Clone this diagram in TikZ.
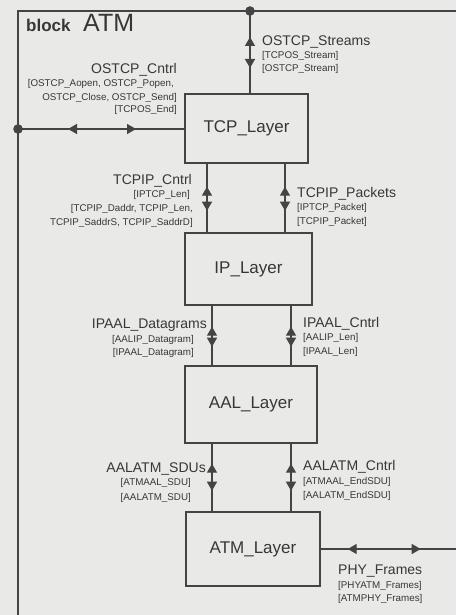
\documentclass[tikz,border=0pt]{standalone}
\usepackage{fontspec}
\setmainfont{Liberation Sans}
\usetikzlibrary{arrows.meta,decorations.markings}
\definecolor{paper}{RGB}{233,233,231}
\definecolor{ink}{RGB}{68,68,68}
\definecolor{txt}{RGB}{55,55,55}
\begin{document}
\begin{tikzpicture}[x=1pt,y=-1pt,
  layer/.style={draw=ink, line width=1.4pt, inner sep=0pt, text=txt,
    font=\fontsize{17}{19}\selectfont},
  conn/.style={color=ink, line width=1.4pt},
  frameline/.style={color=ink, line width=1.6pt},
  big/.style={font=\fontsize{14}{16}\selectfont, text=txt, inner sep=0pt},
  small/.style={font=\fontsize{9.8}{11}\selectfont, text=txt, inner sep=0pt},
  bidir/.style 2 args={postaction={decorate}, decoration={markings,
    mark=at position #1 with {\arrowreversed{Triangle[width=10pt,length=9pt]}},
    mark=at position #2 with {\arrow{Triangle[width=10pt,length=9pt]}}}}
]
\fill[paper] (0,0) rectangle (456,615);
\useasboundingbox (0,0) rectangle (456,615);

% frame of block
\coordinate (fTL) at (18,11);
\coordinate (fTR) at (456,11);
\coordinate (fBL) at (18,615);
\coordinate (jTop) at (250,11);
\coordinate (jLeft) at (18,129);
\draw[frameline] (fBL) -- (fTL) -- (fTR);
\fill[ink] (jTop) circle (4.8);
\fill[ink] (jLeft) circle (4.8);

\node[anchor=base west, inner sep=0pt, text=txt, font=\bfseries\fontsize{17}{20}\selectfont] (blk) at (26,32) {block};
\node[anchor=base west, inner sep=0pt, text=txt, font=\fontsize{25}{28}\selectfont] (atmname) at (83,32) {ATM};

% layers
\node[layer, minimum width=123, minimum height=69] (tcp) at (246.5,128.5) {TCP\_Layer};
\node[layer, minimum width=127, minimum height=72] (ip) at (248.5,269) {IP\_Layer};
\node[layer, minimum width=132, minimum height=77] (aal) at (251,404.5) {AAL\_Layer};
\node[layer, minimum width=134, minimum height=74] (atm) at (253,549) {ATM\_Layer};

% x positions of connectors
\coordinate (xa) at (207,0);
\coordinate (xb) at (285,0);
\coordinate (xc) at (212,0);
\coordinate (xd) at (291,0);
\coordinate (xe) at (212,0);
\coordinate (xf) at (291,0);
\coordinate (phyEnd) at (456,549);

% connectors
\draw[conn, bidir={26pt}{57pt}] (jTop) -- (tcp.north -| jTop);
\draw[conn, bidir={50pt}{118pt}] (jLeft) -- (tcp.west |- jLeft);
\draw[conn, bidir={23pt}{47pt}] (tcp.south -| xa) -- (ip.north -| xa);
\draw[conn, bidir={23pt}{47pt}] (tcp.south -| xb) -- (ip.north -| xb);
\draw[conn, bidir={21pt}{41pt}] (ip.south -| xc) -- (aal.north -| xc);
\draw[conn, bidir={21pt}{41pt}] (ip.south -| xd) -- (aal.north -| xd);
\draw[conn, bidir={20pt}{47pt}] (aal.south -| xe) -- (atm.north -| xe);
\draw[conn, bidir={20pt}{47pt}] (aal.south -| xf) -- (atm.north -| xf);
\draw[conn, bidir={27pt}{100pt}] (atm.east) -- (phyEnd);

% labels: OSTCP_Streams
\node[big, anchor=base west] (l1) at (262,46) {OSTCP\_Streams};
\node[small, anchor=base west] (l1a) at (262,59) {[TCPOS\_Stream]};
\node[small, anchor=base west] (l1b) at (262,72) {[OSTCP\_Stream]};

% OSTCP_Cntrl
\node[big, anchor=base east] (l2) at (177,74) {OSTCP\_Cntrl};
\node[small, anchor=base east] (l2a) at (174,87) {[OSTCP\_Aopen, OSTCP\_Popen,};
\node[small, anchor=base east] (l2b) at (177,101) {OSTCP\_Close, OSTCP\_Send]};
\node[small, anchor=base east] (l2c) at (177,113) {[TCPOS\_End]};

% TCPIP_Cntrl
\node[big, anchor=base east] (l3) at (192,184) {TCPIP\_Cntrl};
\node[small, anchor=base east] (l3a) at (190,197) {[IPTCP\_Len]};
\node[small, anchor=base east] (l3b) at (193,211) {[TCPIP\_Daddr, TCPIP\_Len,};
\node[small, anchor=base east] (l3c) at (193,225) {TCPIP\_SaddrS, TCPIP\_SaddrD]};

% TCPIP_Packets
\node[big, anchor=base west] (l4) at (297,197) {TCPIP\_Packets};
\node[small, anchor=base west] (l4a) at (297,210) {[IPTCP\_Packet]};
\node[small, anchor=base west] (l4b) at (297,224) {[TCPIP\_Packet]};

% IPAAL_Datagrams
\node[big, anchor=base east] (l5) at (207,328) {IPAAL\_Datagrams};
\node[small, anchor=base east] (l5a) at (194,342) {[AALIP\_Datagram]};
\node[small, anchor=base east] (l5b) at (194,355) {[IPAAL\_Datagram]};

% IPAAL_Cntrl
\node[big, anchor=base west] (l6) at (303,327) {IPAAL\_Cntrl};
\node[small, anchor=base west] (l6a) at (303,340) {[AALIP\_Len]};
\node[small, anchor=base west] (l6b) at (303,354) {[IPAAL\_Len]};

% AALATM_SDUs
\node[big, anchor=base east] (l7) at (206,472) {AALATM\_SDUs};
\node[small, anchor=base east] (l7a) at (191,485) {[ATMAAL\_SDU]};
\node[small, anchor=base east] (l7b) at (191,500) {[AALATM\_SDU]};

% AALATM_Cntrl
\node[big, anchor=base west] (l8) at (303,470) {AALATM\_Cntrl};
\node[small, anchor=base west] (l8a) at (303,484) {[ATMAAL\_EndSDU]};
\node[small, anchor=base west] (l8b) at (303,498) {[AALATM\_EndSDU]};

% PHY_Frames
\node[big, anchor=base west] (l9) at (338,574) {PHY\_Frames};
\node[small, anchor=base west] (l9a) at (338,588) {[PHYATM\_Frames]};
\node[small, anchor=base west] (l9b) at (338,601) {[ATMPHY\_Frames]};
\end{tikzpicture}
\end{document}
